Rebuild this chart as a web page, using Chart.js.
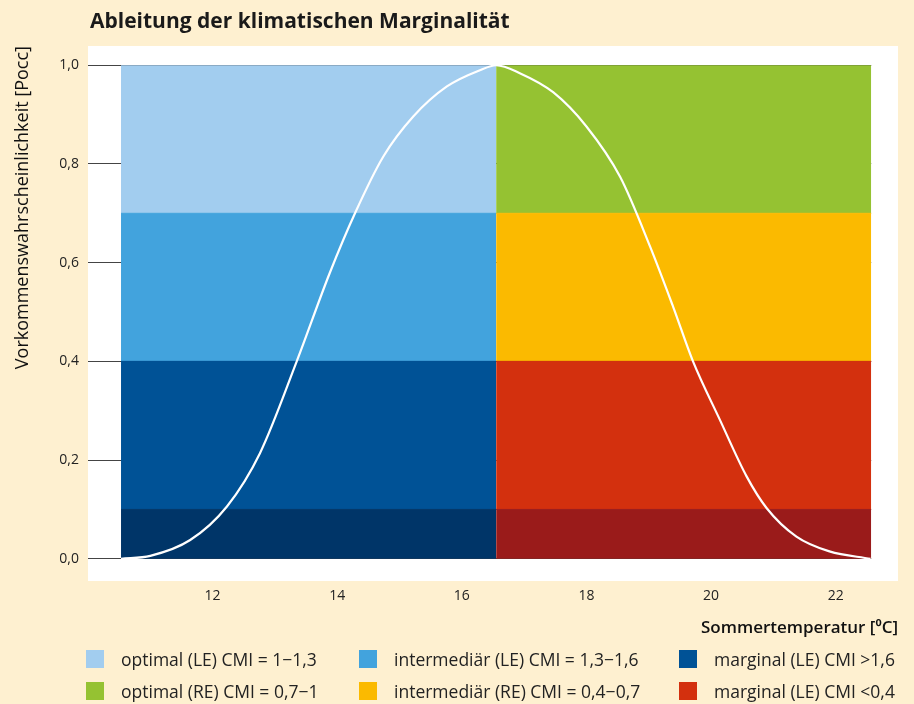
<!DOCTYPE html>
<html>
<head>
<meta charset="utf-8">
<script src="https://cdn.jsdelivr.net/npm/chart.js@4"></script>
<style>
  body { margin: 0; background: #fef0d0; font-family: "Open Sans", sans-serif; }
  #wrap { position: relative; width: 914px; height: 704px; }
  #title { position: absolute; left: 90px; top: 6px; font-size: 21px; font-weight: bold; color: #1a1a1a; line-height: 28px; }
  .leg { position: absolute; font-size: 17.5px; color: #222; line-height: 20px; white-space: nowrap; }
  .leg span { position: absolute; left: 0; top: 1px; width: 18px; height: 18px; }
  .leg b { font-weight: normal; position: absolute; left: 35px; top: 0; }
</style>
</head>
<body>
<div id="wrap">
  <canvas id="chart" width="914" height="704"></canvas>
  <div id="title">Ableitung der klimatischen Marginalität</div>
  <div id="legend"></div>
</div>
<script>
// axis ticks
const xTicks = [12, 14, 16, 18, 20, 22];
const yTicks = [0, 0.2, 0.4, 0.6, 0.8, 1.0];

// the two blocks (left = LE, right = RE) and their bands, bottom to top
const blockEdges = [10.53, 16.55, 22.57];
const bandLevels = [0, 0.1, 0.4, 0.7, 1.0];
const leColors = ['#003568', '#005296', '#42a3dd', '#a2cdef'];
const reColors = ['#9a1b1a', '#d3300e', '#fbba00', '#95c232'];

// occurrence curve
const curveX = [10.53, 11.0, 11.64, 12.23, 12.76, 13.35, 13.88, 14.285, 14.74, 15.22, 15.76, 16.29, 16.55,
                16.93, 17.47, 18.0, 18.54, 19.02, 19.39, 19.71, 20.14, 20.57, 20.89, 21.37, 21.9, 22.56];
const curveY = [0.0, 0.006, 0.038, 0.106, 0.214, 0.40, 0.579, 0.70, 0.815, 0.896, 0.957, 0.990, 1.0,
                0.984, 0.945, 0.876, 0.774, 0.633, 0.511, 0.40, 0.282, 0.167, 0.103, 0.045, 0.015, 0.0];

const legendLabels = [
  'optimal (LE) CMI = 1−1,3', 'intermediär (LE) CMI = 1,3−1,6', 'marginal (LE) CMI >1,6',
  'optimal (RE) CMI = 0,7−1', 'intermediär (RE) CMI = 0,4−0,7', 'marginal (LE) CMI <0,4'
];
const legendColors = ['#a2cdef', '#42a3dd', '#005296', '#95c232', '#fbba00', '#d3300e'];

const datasets = [{
  data: curveX.map((x, i) => ({ x, y: curveY[i] })),
  borderColor: '#ffffff',
  borderWidth: 2.2,
  pointRadius: 0,
  cubicInterpolationMode: 'monotone',
  fill: false
}];

function bandSet(x0, x1, lo, hi, color) {
  return {
    data: [{ x: x0, y: hi }, { x: x1, y: hi }],
    borderColor: color,
    borderWidth: hi < 1 ? 1 : 0,   // closes the hairline seam to the band above
    pointRadius: 0,
    backgroundColor: color,
    fill: { value: lo }
  };
}
for (let i = 0; i < 4; i++) {
  datasets.push(bandSet(blockEdges[0], blockEdges[1], bandLevels[i], bandLevels[i + 1], leColors[i]));
  datasets.push(bandSet(blockEdges[1], blockEdges[2], bandLevels[i], bandLevels[i + 1], reColors[i]));
}

const plotBg = {
  id: 'plotBg',
  beforeDraw(chart) {
    const { ctx, chartArea: a } = chart;
    ctx.save();
    ctx.fillStyle = '#ffffff';
    ctx.fillRect(a.left, a.top, a.right - a.left, a.bottom - a.top);
    ctx.restore();
  },
  beforeDatasetsDraw(chart) {
    // grid lines stop at the right edge of the blocks
    const { ctx, chartArea: a } = chart;
    const xr = chart.scales.x.getPixelForValue(blockEdges[2]);
    ctx.save();
    ctx.fillStyle = '#ffffff';
    ctx.fillRect(xr, a.top, a.right - xr, a.bottom - a.top);
    ctx.restore();
  }
};

new Chart(document.getElementById('chart'), {
  type: 'line',
  data: { datasets },
  plugins: [plotBg],
  options: {
    responsive: false,
    animation: false,
    layout: { padding: { top: 46, right: 16, bottom: 65, left: 0 } },
    plugins: { legend: { display: false }, tooltip: { enabled: false } },
    scales: {
      x: {
        type: 'linear',
        min: 10,
        max: 23,
        afterBuildTicks: s => { s.ticks = xTicks.map(v => ({ value: v })); },
        afterFit: s => { s.height = 58; },
        grid: { display: false, drawTicks: false },
        border: { display: false },
        ticks: { padding: 7, color: '#222', font: { family: 'Open Sans', size: 14 } },
        title: {
          display: true,
          text: 'Sommertemperatur [⁰C]',
          align: 'end',
          color: '#111',
          padding: { top: 0, bottom: 1 },
          font: { family: 'Open Sans', size: 17, weight: '600' }
        }
      },
      y: {
        type: 'linear',
        min: -0.045,
        max: 1.039,
        afterBuildTicks: s => { s.ticks = yTicks.map(v => ({ value: v })); },
        afterFit: s => { s.width = 88; },
        grid: { color: '#444', lineWidth: 1, drawTicks: false },
        border: { display: false },
        ticks: {
          padding: 9,
          color: '#222',
          font: { family: 'Open Sans', size: 14 },
          callback: v => v.toFixed(1).replace('.', ',')
        },
        title: {
          display: true,
          text: 'Vorkommenswahrscheinlichkeit [Pocc]',
          align: 'end',
          color: '#111',
          padding: { top: 12, bottom: 0 },
          font: { family: 'Open Sans', size: 18 }
        }
      }
    }
  }
});

// legend: 3 columns, 2 rows
const legendX = [86, 359, 679];
const legendY = [649, 681];
const legend = document.getElementById('legend');
legendLabels.forEach((label, i) => {
  const d = document.createElement('div');
  d.className = 'leg';
  d.style.left = legendX[i % 3] + 'px';
  d.style.top = legendY[Math.floor(i / 3)] + 'px';
  d.innerHTML = `<span style="background:${legendColors[i]}"></span><b>${label}</b>`;
  legend.appendChild(d);
});
</script>
</body>
</html>
